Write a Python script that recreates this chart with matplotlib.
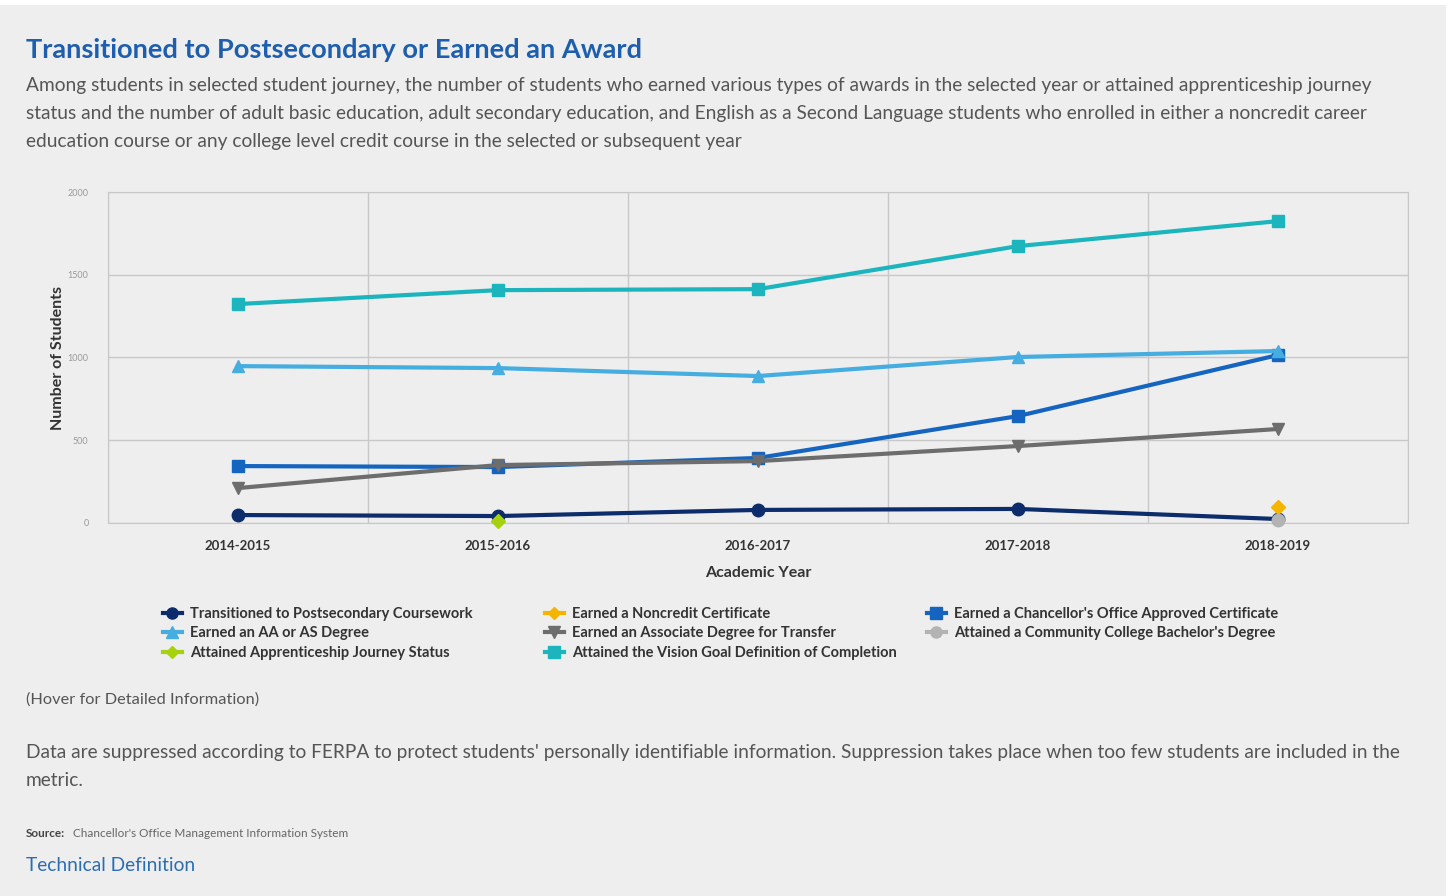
import matplotlib.pyplot as plt
from matplotlib.patches import Rectangle
from matplotlib.lines import Line2D
import numpy as np

years = ["2014-2015", "2015-2016", "2016-2017", "2017-2018", "2018-2019"]

transitioned = [48, 42, 79, 85, 24]
noncredit = [None, None, None, None, 97]
chancellor_cert = [344, 338, 393, 646, 1015]
aa_as = [948, 936, 888, 1003, 1039]
adt = [211, 350, 374, 465, 568]
bachelor = [None, None, None, None, 18]
apprenticeship = [None, 12, None, None, None]
vision_goal = [1323, 1407, 1413, 1673, 1824]

W, H = 1448, 896
BG = "#eeeeee"
FONT = ["Lato", "DejaVu Sans"]


def fy(py):
    return 1 - py / H


def fx(px):
    return px / W


plt.rcParams["font.family"] = FONT
fig = plt.figure(figsize=(W / 100, H / 100), dpi=100)
fig.patch.set_facecolor("white")
fig.patches.append(Rectangle((0, 0), fx(1446), fy(5), transform=fig.transFigure,
                             facecolor=BG, edgecolor="none", zorder=-5))

fig.text(fx(26), fy(50), "Transitioned to Postsecondary or Earned an Award",
         color="#1d5fae", fontsize=19.6, fontweight="bold", va="center")
sub = ["Among students in selected student journey, the number of students who earned various types of awards in the selected year or attained apprenticeship journey",
       "status and the number of adult basic education, adult secondary education, and English as a Second Language students who enrolled in either a noncredit career",
       "education course or any college level credit course in the selected or subsequent year"]
for i, line in enumerate(sub):
    fig.text(fx(26), fy(85 + 28 * i), line, color="#555555", fontsize=13.8, va="center")

ax = fig.add_axes([fx(108), fy(523), fx(1408) - fx(108), fy(192) - fy(523)])
ax.set_facecolor(BG)
x = np.arange(len(years))

series = [
    ("Transitioned to Postsecondary Coursework", transitioned, "#0c2c6c", "o", 9),
    ("Earned a Noncredit Certificate", noncredit, "#f5b400", "D", 7),
    ("Earned a Chancellor's Office Approved Certificate", chancellor_cert, "#1565c0", "s", 9),
    ("Earned an AA or AS Degree", aa_as, "#45ade0", "^", 9),
    ("Earned an Associate Degree for Transfer", adt, "#6d6d6d", "v", 9),
    ("Attained a Community College Bachelor's Degree", bachelor, "#b3b3b3", "o", 9),
    ("Attained Apprenticeship Journey Status", apprenticeship, "#a6d10f", "D", 7),
    ("Attained the Vision Goal Definition of Completion", vision_goal, "#1cb5bd", "s", 9),
]

handles = {}
for name, vals, col, mk, ms in series:
    y = np.array([np.nan if v is None else v for v in vals], dtype=float)
    ax.plot(x, y, color=col, lw=3, marker=mk, ms=ms, zorder=3, clip_on=False)
    handles[name] = Line2D([], [], color=col, lw=3, marker=mk, ms=ms - 1)

ax.set_xlim(-0.5, 4.5)
ax.set_ylim(0, 2000)
ax.set_yticks([0, 500, 1000, 1500, 2000])
ax.set_yticklabels(["0", "500", "1000", "1500", "2000"], fontsize=6.5, color="#999999")
ax.set_xticks(x)
ax.set_xticklabels(years, fontsize=9.5, fontweight="bold", color="#333333")
ax.set_xticks(np.arange(-0.5, 5, 1), minor=True)
ax.tick_params(axis="both", which="both", length=0)
ax.tick_params(axis="y", pad=14)
ax.tick_params(axis="x", pad=12)
ax.grid(axis="y", color="#c8c8c8", lw=1)
ax.grid(axis="x", which="minor", color="#c8c8c8", lw=1)
ax.set_axisbelow(True)
for s in ax.spines.values():
    s.set_color("#c8c8c8")
ax.set_xlabel("Academic Year", fontsize=11.5, fontweight="bold", color="#333333", labelpad=10)
ax.set_ylabel("Number of Students", fontsize=11.5, fontweight="bold", color="#333333", labelpad=2)

columns = [
    (163, ["Transitioned to Postsecondary Coursework", "Earned an AA or AS Degree",
           "Attained Apprenticeship Journey Status"]),
    (545, ["Earned a Noncredit Certificate", "Earned an Associate Degree for Transfer",
           "Attained the Vision Goal Definition of Completion"]),
    (927, ["Earned a Chancellor's Office Approved Certificate",
           "Attained a Community College Bachelor's Degree"]),
]
for px, names in columns:
    leg = fig.legend([handles[n] for n in names], names, loc="upper left",
                     bbox_to_anchor=(fx(px), fy(607)), frameon=False, handlelength=1.3,
                     handletextpad=0.55, labelspacing=0.37, borderaxespad=0, borderpad=0,
                     prop={"size": 10.5, "weight": "bold"}, labelcolor="#333333")

fig.text(fx(26), fy(700), "(Hover for Detailed Information)", color="#555555", fontsize=11.8, va="center")
fig.text(fx(26), fy(752), "Data are suppressed according to FERPA to protect students' personally identifiable information. Suppression takes place when too few students are included in the",
         color="#555555", fontsize=13.75, va="center")
fig.text(fx(26), fy(780), "metric.", color="#555555", fontsize=13.75, va="center")
fig.text(fx(26), fy(833), "Source:", color="#444444", fontsize=8.5, fontweight="bold", va="center")
fig.text(fx(73), fy(833), "Chancellor's Office Management Information System", color="#666666", fontsize=8.5, va="center")
fig.text(fx(26), fy(865), "Technical Definition", color="#2a6db5", fontsize=13.8, va="center")

fig.savefig("out.png", dpi=100, facecolor=fig.get_facecolor())
